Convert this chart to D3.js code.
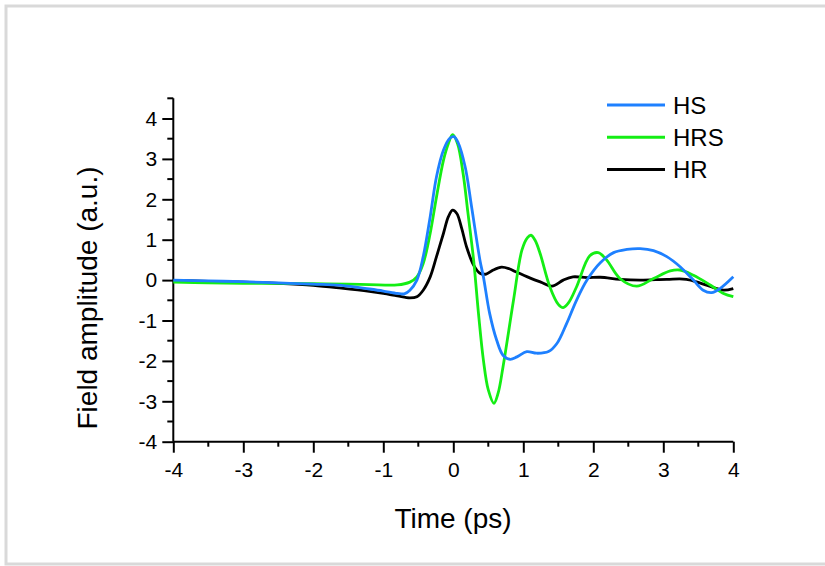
<!DOCTYPE html>
<html>
<head>
<meta charset="utf-8">
<script src="https://cdn.jsdelivr.net/npm/d3@7"></script>
<style>
  body { margin: 0; background: #fff; }
  svg { display: block; font-family: Arial, "Liberation Sans", sans-serif; }
</style>
</head>
<body>
<div id="chart"></div>
<script>
// data (time in ps, amplitude in a.u.)
const seriesNames = ['HS', 'HRS', 'HR'];
const seriesColors = ['#1e80ff', '#14ee14', '#000000'];

const hsTime = [-4, -3.5, -3, -2.5, -2, -1.6, -1.2, -1, -0.8, -0.7, -0.62, -0.52, -0.43, -0.33, -0.24, -0.14, -0.05, 0.01, 0.07, 0.17, 0.26, 0.38, 0.43, 0.52, 0.62, 0.71, 0.81, 0.91, 1.05, 1.19, 1.36, 1.48, 1.62, 1.76, 1.91, 2.1, 2.29, 2.48, 2.67, 2.86, 3.05, 3.24, 3.43, 3.57, 3.69, 3.81, 4.0];
const hsValue = [0.0, -0.02, -0.04, -0.07, -0.1, -0.13, -0.22, -0.27, -0.33, -0.34, -0.25, 0.0, 0.58, 1.57, 2.56, 3.22, 3.51, 3.55, 3.4, 2.8, 1.83, 0.5, 0.08, -0.83, -1.49, -1.86, -1.96, -1.9, -1.77, -1.81, -1.77, -1.57, -1.07, -0.5, 0.0, 0.43, 0.68, 0.76, 0.78, 0.73, 0.58, 0.33, 0.0, -0.25, -0.31, -0.21, 0.08];

const hrsTime = [-4, -3.5, -3, -2.5, -2, -1.5, -1.2, -0.8, -0.62, -0.52, -0.43, -0.33, -0.24, -0.14, -0.07, -0.01, 0.06, 0.14, 0.21, 0.29, 0.36, 0.43, 0.5, 0.58, 0.64, 0.71, 0.86, 0.98, 1.06, 1.11, 1.17, 1.24, 1.38, 1.5, 1.57, 1.65, 1.76, 1.95, 2.07, 2.19, 2.38, 2.62, 2.86, 3.1, 3.24, 3.43, 3.67, 3.86, 4.0];
const hrsValue = [-0.05, -0.07, -0.08, -0.08, -0.09, -0.1, -0.11, -0.12, -0.05, 0.08, 0.41, 1.16, 2.06, 2.97, 3.38, 3.6, 3.38, 2.64, 1.65, 0.5, -0.83, -1.98, -2.72, -3.05, -2.8, -2.15, -0.5, 0.74, 1.05, 1.11, 0.98, 0.66, -0.17, -0.6, -0.68, -0.55, -0.17, 0.6, 0.68, 0.5, 0.04, -0.15, 0.04, 0.23, 0.25, 0.12, -0.12, -0.33, -0.41];

const hrTime = [-4, -3.5, -3, -2.5, -2, -1.6, -1.2, -1, -0.8, -0.62, -0.52, -0.43, -0.33, -0.24, -0.14, -0.07, -0.01, 0.05, 0.12, 0.19, 0.29, 0.38, 0.47, 0.57, 0.69, 0.8, 0.9, 1.1, 1.25, 1.41, 1.57, 1.71, 1.91, 2.1, 2.38, 2.67, 3.05, 3.33, 3.52, 3.71, 3.86, 4.0];
const hrValue = [-0.01, -0.03, -0.05, -0.08, -0.13, -0.2, -0.28, -0.33, -0.39, -0.44, -0.41, -0.25, 0.08, 0.58, 1.16, 1.57, 1.73, 1.65, 1.28, 0.82, 0.37, 0.17, 0.15, 0.25, 0.32, 0.28, 0.2, 0.05, -0.05, -0.15, 0.0, 0.08, 0.06, 0.07, 0.02, 0.0, 0.02, 0.02, -0.07, -0.18, -0.25, -0.21];

const xTicks = [-4, -3, -2, -1, 0, 1, 2, 3, 4];
const yTicks = [-4, -3, -2, -1, 0, 1, 2, 3, 4];

const width = 825;
const height = 566;

const svg = d3.select('#chart')
  .append('svg')
  .attr('width', width)
  .attr('height', height);

// light grey frame round the picture
svg.append('rect')
  .attr('x', 6).attr('y', 6)
  .attr('width', 840).attr('height', 558)
  .attr('fill', 'none')
  .attr('stroke', '#d9d9d9')
  .attr('stroke-width', 3);

const x = d3.scaleLinear().domain([-4, 4]).range([173.3, 733.3]);
const y = d3.scaleLinear().domain([-4, 4]).range([441.7, 118.5]);

// axes, labels with a plain hyphen like the original
const xAxis = d3.axisBottom(x)
  .tickValues(xTicks)
  .tickSize(11)
  .tickPadding(9)
  .tickFormat((d) => String(d));
const yAxis = d3.axisLeft(y)
  .tickValues(yTicks)
  .tickSize(11)
  .tickPadding(5)
  .tickFormat((d) => String(d));

const gx = svg.append('g')
  .attr('transform', `translate(0,${y(-4)})`)
  .call(xAxis);
const gy = svg.append('g')
  .attr('transform', `translate(${x(-4)},0)`)
  .call(yAxis);

// minor ticks
gx.selectAll('.minor')
  .data(d3.range(-3.5, 4, 1))
  .enter().append('line')
  .attr('x1', (d) => x(d)).attr('x2', (d) => x(d))
  .attr('y1', 0).attr('y2', 5);
gy.selectAll('.minor')
  .data(d3.range(-3.5, 5, 1))
  .enter().append('line')
  .attr('y1', (d) => y(d)).attr('y2', (d) => y(d))
  .attr('x1', 0).attr('x2', -6);

// y axis line reaches up to 4.5
gy.select('.domain').attr('d', `M0,${y(-4)}V${y(4.5)}`);
gx.select('.domain').attr('d', `M${x(-4)},0H${x(4)}`);

[gx, gy].forEach((g) => {
  g.selectAll('.domain, line')
    .attr('stroke', '#000')
    .attr('stroke-width', 2);
  g.selectAll('text')
    .attr('fill', '#000')
    .style('font-size', '21px')
    .style('font-family', 'Arial, "Liberation Sans", sans-serif');
});

// lines
const series = [
  { t: hsTime, v: hsValue },
  { t: hrsTime, v: hrsValue },
  { t: hrTime, v: hrValue }
];

const line = d3.line()
  .x((d) => x(d[0]))
  .y((d) => y(d[1]))
  .curve(d3.curveCatmullRom.alpha(0.5));

// HR drawn first so the coloured lines lie on top of it
[2, 1, 0].forEach((i) => {
  const pts = series[i].t.map((t, k) => [t, series[i].v[k]]);
  svg.append('path')
    .attr('d', line(pts))
    .attr('fill', 'none')
    .attr('stroke', seriesColors[i])
    .attr('stroke-width', 2.8)
    .attr('stroke-linejoin', 'round');
});

// axis titles
svg.append('text')
  .attr('x', 453)
  .attr('y', 528)
  .attr('text-anchor', 'middle')
  .style('font-size', '28px')
  .text('Time (ps)');

svg.append('text')
  .attr('transform', 'translate(97,298) rotate(-90)')
  .attr('text-anchor', 'middle')
  .style('font-size', '28px')
  .text('Field amplitude (a.u.)');

// legend
const legend = svg.append('g');
seriesNames.forEach((name, i) => {
  const ly = 105 + i * 32.2;
  legend.append('line')
    .attr('x1', 607).attr('x2', 665)
    .attr('y1', ly).attr('y2', ly)
    .attr('stroke', seriesColors[i])
    .attr('stroke-width', 3);
  legend.append('text')
    .attr('x', 673)
    .attr('y', ly + 9)
    .style('font-size', '24px')
    .text(name);
});
</script>
</body>
</html>
